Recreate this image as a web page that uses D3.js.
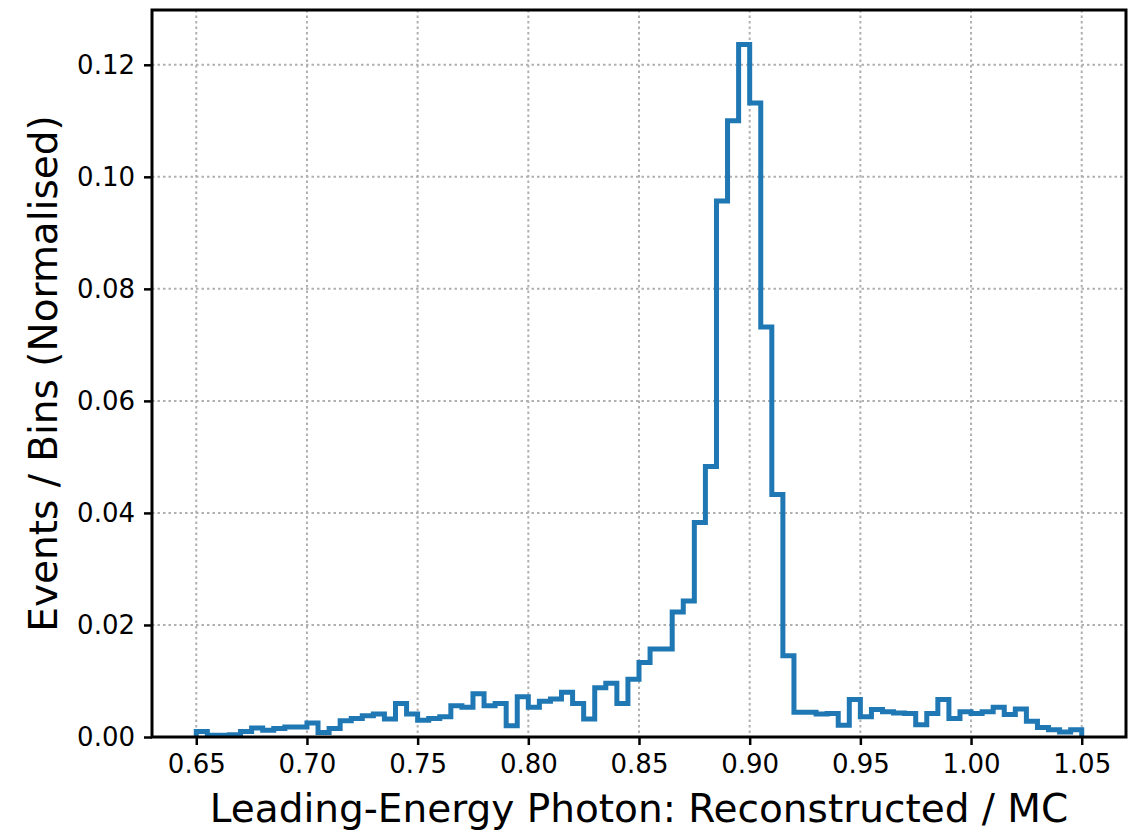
<!DOCTYPE html>
<html>
<head>
<meta charset="utf-8">
<script src="https://cdn.jsdelivr.net/npm/d3@7"></script>
<style>
  body { margin: 0; background: #fff; }
  text { font-family: "DejaVu Sans", sans-serif; fill: #000; }
</style>
</head>
<body>
<script>
'use strict';

// histogram binning (80 bins of 0.005 between 0.65 and 1.05)
var binStart = 0.65;
var binWidth = 0.005;

// normalised counts per bin
var counts = [
    0.0010, 0.0003, 0.0003, 0.0004, 0.0010, 0.0016, 0.0012, 0.0015, 0.0018, 0.0018,
    0.0025, 0.0008, 0.0015, 0.0029, 0.0033, 0.0038, 0.0041, 0.0032, 0.0060, 0.0041,
    0.0030, 0.0033, 0.0036, 0.0056, 0.0053, 0.0077, 0.0056, 0.0060, 0.0020, 0.0072,
    0.0053, 0.0064, 0.0068, 0.0080, 0.0060, 0.0032, 0.0088, 0.0096, 0.0060, 0.0103,
    0.0133, 0.0157, 0.0157, 0.0223, 0.0243, 0.0383, 0.0483, 0.0957, 0.1100, 0.1236,
    0.1132, 0.0732, 0.0433, 0.0145, 0.0044, 0.0044, 0.0041, 0.0042, 0.0021, 0.0067,
    0.0036, 0.0049, 0.0045, 0.0043, 0.0042, 0.0022, 0.0042, 0.0067, 0.0033, 0.0045,
    0.0042, 0.0045, 0.0053, 0.0040, 0.0050, 0.0028, 0.0017, 0.0013, 0.0009, 0.0013
];

var xTicks = [0.65, 0.70, 0.75, 0.80, 0.85, 0.90, 0.95, 1.00, 1.05];
var yTicks = [0.00, 0.02, 0.04, 0.06, 0.08, 0.10, 0.12];

var xLabel = 'Leading-Energy Photon: Reconstructed / MC';
var yLabel = 'Events / Bins (Normalised)';

function drawChart() {
    var width = 1140;
    var height = 832;
    var m = {left: 152, right: 1126, top: 10, bottom: 737};

    var svg = d3.select('body').append('svg')
        .attr('width', width)
        .attr('height', height);

    var xEnd = binStart + binWidth * counts.length;
    var pad = (xEnd - binStart) * 0.05;
    var x = d3.scaleLinear().domain([binStart - pad, xEnd + pad]).range([m.left, m.right]);
    var y = d3.scaleLinear().domain([0, d3.max(counts) * 1.05]).range([m.bottom, m.top]);

    // grid
    var grid = svg.append('g')
        .attr('stroke', '#b0b0b0')
        .attr('stroke-width', 2)
        .attr('stroke-dasharray', '2.5,3');

    grid.selectAll('.vx').data(xTicks).enter().append('line')
        .attr('x1', function (d) { return x(d); })
        .attr('x2', function (d) { return x(d); })
        .attr('y1', m.top)
        .attr('y2', m.bottom);

    grid.selectAll('.hy').data(yTicks).enter().append('line')
        .attr('x1', m.left)
        .attr('x2', m.right)
        .attr('y1', function (d) { return y(d); })
        .attr('y2', function (d) { return y(d); });

    // step outline of the histogram
    var pts = [[binStart, 0]];
    counts.forEach(function (c, i) {
        var x0 = binStart + i * binWidth;
        pts.push([x0, c]);
        pts.push([x0 + binWidth, c]);
    });
    pts.push([xEnd, 0]);

    svg.append('path')
        .datum(pts)
        .attr('fill', 'none')
        .attr('stroke', '#1f77b4')
        .attr('stroke-width', 5)
        .attr('stroke-linejoin', 'miter')
        .attr('d', d3.line()
            .x(function (d) { return x(d[0]); })
            .y(function (d) { return y(d[1]); }));

    // axes
    var xAxis = d3.axisBottom(x)
        .tickValues(xTicks)
        .tickFormat(d3.format('.2f'))
        .tickSizeInner(8)
        .tickSizeOuter(0)
        .tickPadding(10);

    var yAxis = d3.axisLeft(y)
        .tickValues(yTicks)
        .tickFormat(d3.format('.2f'))
        .tickSizeInner(8)
        .tickSizeOuter(0)
        .tickPadding(9);

    var gx = svg.append('g')
        .attr('transform', 'translate(0,' + m.bottom + ')')
        .call(xAxis);
    var gy = svg.append('g')
        .attr('transform', 'translate(' + m.left + ',0)')
        .call(yAxis);

    [gx, gy].forEach(function (g) {
        g.select('.domain').remove();
        g.selectAll('.tick line').attr('stroke', '#000').attr('stroke-width', 2.5);
        g.selectAll('.tick text')
            .attr('font-size', '26px')
            .style('font-family', '"DejaVu Sans", sans-serif')
            .attr('fill', '#000');
    });

    // frame
    svg.append('rect')
        .attr('x', m.left)
        .attr('y', m.top)
        .attr('width', m.right - m.left)
        .attr('height', m.bottom - m.top)
        .attr('fill', 'none')
        .attr('stroke', '#000')
        .attr('stroke-width', 3);

    // labels
    svg.append('text')
        .attr('x', (m.left + m.right) / 2)
        .attr('y', 822)
        .attr('text-anchor', 'middle')
        .attr('font-size', '39px')
        .text(xLabel);

    svg.append('text')
        .attr('transform', 'translate(57,' + (m.top + m.bottom) / 2 + ') rotate(-90)')
        .attr('text-anchor', 'middle')
        .attr('font-size', '39px')
        .text(yLabel);
}

drawChart();
</script>
</body>
</html>
